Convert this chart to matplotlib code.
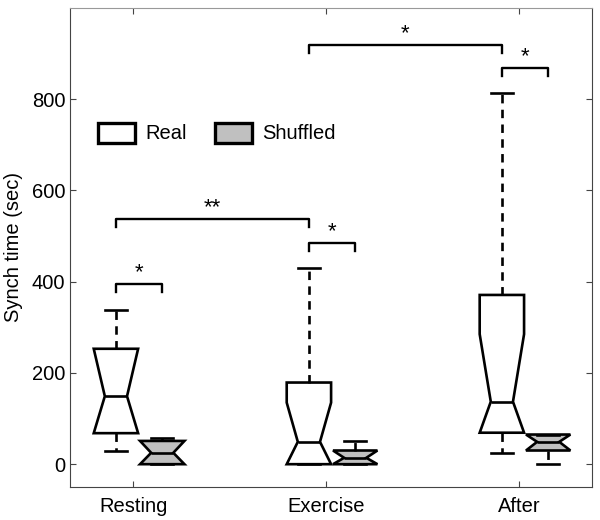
import matplotlib
matplotlib.use("Agg")
import matplotlib.pyplot as plt
from matplotlib.patches import Patch

plt.rcParams['font.family'] = ['Liberation Sans', 'DejaVu Sans']

# categories and box statistics (sec)
groups = ['Resting', 'Exercise', 'After']

real_whislo = [29, 0, 25]
real_q1 = [68, 0, 69]
real_med = [149, 49, 137]
real_q3 = [253, 179, 371]
real_whishi = [338, 431, 814]
real_cilo = [68, 0, 69]
real_cihi = [253, 135, 285]

shuf_whislo = [0, 0, 0]
shuf_q1 = [0, 0, 30]
shuf_med = [25, 14, 49]
shuf_q3 = [51, 30, 65]
shuf_whishi = [58, 51, 65]
shuf_cilo = [0, 0, 30]
shuf_cihi = [51, 30, 65]

# significance brackets: (first box, second box, bar height, label)
sig_from = ['Resting real', 'Resting real', 'Exercise real', 'Exercise real', 'After real']
sig_to = ['Resting shuf', 'Exercise real', 'Exercise shuf', 'After real', 'After shuf']
sig_height = [395, 537, 485, 919, 868]
sig_label = ['*', '**', '*', '*', '*']


def stats(wl, q1, med, q3, wh, cl, ch):
    out = []
    for i in range(len(med)):
        out.append(dict(whislo=wl[i], q1=q1[i], med=med[i], q3=q3[i],
                        whishi=wh[i], cilo=cl[i], cihi=ch[i], fliers=[]))
    return out


fig = plt.figure(figsize=(6, 5.2), dpi=100)
ax = fig.add_axes([70 / 600, 33 / 520, 522 / 600, 479 / 520])

ticks = [1, 2, 3]
real_pos = [t - 0.09 for t in ticks]
shuf_pos = [t + 0.15 for t in ticks]
width = 0.23
lw = 1.9

common = dict(widths=width, shownotches=True, patch_artist=True,
              showfliers=False, manage_ticks=False,
              whiskerprops=dict(color='black', linewidth=lw, linestyle=(0, (3.2, 2.4))),
              capprops=dict(color='black', linewidth=lw),
              medianprops=dict(color='black', linewidth=lw))

ax.bxp(stats(real_whislo, real_q1, real_med, real_q3, real_whishi, real_cilo, real_cihi),
       positions=real_pos,
       boxprops=dict(facecolor='white', edgecolor='black', linewidth=lw), **common)
ax.bxp(stats(shuf_whislo, shuf_q1, shuf_med, shuf_q3, shuf_whishi, shuf_cilo, shuf_cihi),
       positions=shuf_pos,
       boxprops=dict(facecolor='#c0c0c0', edgecolor='black', linewidth=lw), **common)

# bracket x positions
xpos = {}
for i, g in enumerate(groups):
    xpos[g + ' real'] = real_pos[i]
    xpos[g + ' shuf'] = shuf_pos[i]

leg = 18
for a, b, h, lab in zip(sig_from, sig_to, sig_height, sig_label):
    x1, x2 = xpos[a], xpos[b]
    ax.plot([x1, x1, x2, x2], [h - leg, h, h, h - leg], color='black', lw=1.7)
    ax.text((x1 + x2) / 2, h + 2, lab, ha='center', va='bottom', fontsize=16)

ax.set_xlim(0.672, 3.377)
ax.set_ylim(-50, 1000)
ax.set_xticks(ticks)
ax.set_xticklabels(groups)
ax.set_yticks([0, 200, 400, 600, 800])
ax.set_ylabel('Synch time (sec)', fontsize=14.5, labelpad=6)
ax.tick_params(direction='in', length=4, labelsize=14.5, top=True, right=True,
               color='#444444')
ax.tick_params(axis='x', pad=7)
for s in ['left', 'bottom', 'right']:
    ax.spines[s].set_color('#444444')
ax.spines['top'].set_color('#999999')

handles = [Patch(facecolor='white', edgecolor='black', linewidth=2.4, label='Real'),
           Patch(facecolor='#c0c0c0', edgecolor='black', linewidth=2.4, label='Shuffled')]
fig.legend(handles=handles, loc='center left', bbox_to_anchor=(98 / 600, 1 - 133 / 520),
           ncol=2, frameon=False, fontsize=14.5, handlelength=1.85, handleheight=1.15,
           handletextpad=0.5, columnspacing=1.4, borderpad=0, borderaxespad=0)

fig.savefig('out.png', dpi=100)
